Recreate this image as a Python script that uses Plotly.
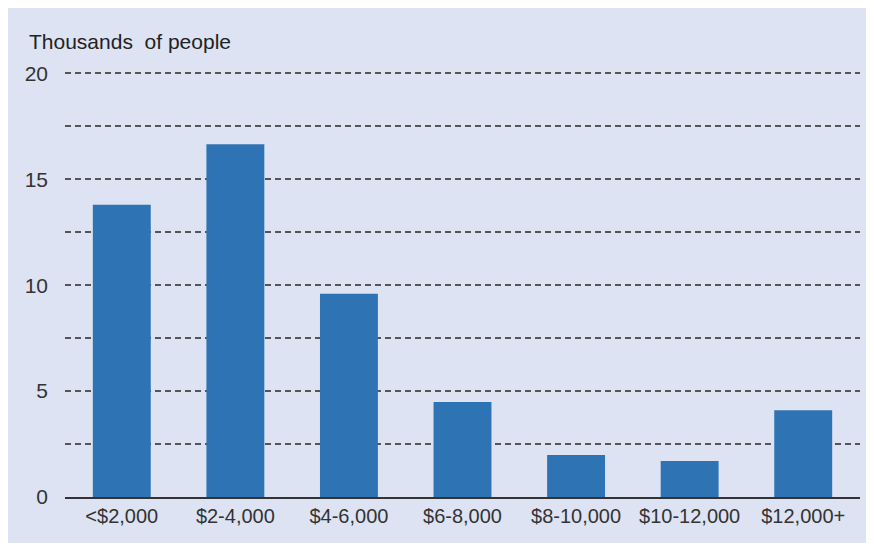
import plotly.graph_objects as go

categories = ["<$2,000", "$2-4,000", "$4-6,000", "$6-8,000", "$8-10,000", "$10-12,000", "$12,000+"]
values = [13.8, 16.65, 9.6, 4.48, 1.98, 1.7, 4.1]
tick_vals = [0, 2.5, 5, 7.5, 10, 12.5, 15, 17.5, 20]
tick_text = ["0", "", "5", "", "10", "", "15", "", "20"]
y_max = 20.3

# page has 8px body margin; figure drawn at (8, 8)
OFF = 8
W, H = 866 - OFF, 543 - OFF
px_per_unit = (497 - 73) / 20
top_px = 497 - y_max * px_per_unit
ml, mr, mt, mb = 65 - OFF, W - (860 - OFF), round(top_px) - OFF, H - (497 - OFF)
pw, ph = W - ml - mr, H - mt - mb

def px_x(x):
    return (x - OFF - ml) / pw

def px_y(y):
    return (H - mb - (y - OFF)) / ph

fig = go.Figure(go.Bar(x=categories, y=values, marker_color="#2e74b5",
                       marker_line_width=0, width=0.51))

fig.update_layout(
    width=W, height=H,
    margin=dict(l=ml, r=mr, t=mt, b=mb),
    paper_bgcolor="#dde3f3",
    plot_bgcolor="rgba(0,0,0,0)",
    font=dict(family="Liberation Sans, Arial, sans-serif", size=20, color="#333333"),
    showlegend=False,
    bargap=0.49,
    annotations=[dict(text="Thousands  of people", xref="paper", yref="paper",
                      x=px_x(27), y=px_y(42), xanchor="left", yanchor="middle",
                      showarrow=False, font=dict(size=21, color="#222222"))],
)
fig.update_xaxes(showgrid=False, showline=True, linecolor="#333333", linewidth=1.5,
                 ticks="", tickfont=dict(size=20, color="#333333"))
fig.update_yaxes(range=[0, y_max], tickvals=tick_vals, ticktext=tick_text,
                 showgrid=True, gridcolor="#555555", griddash="6px,4px", gridwidth=1.8,
                 zeroline=False, showline=False, ticks="", ticklabelstandoff=16,
                 tickfont=dict(size=21, color="#333333"))
fig.write_html("out.html")
